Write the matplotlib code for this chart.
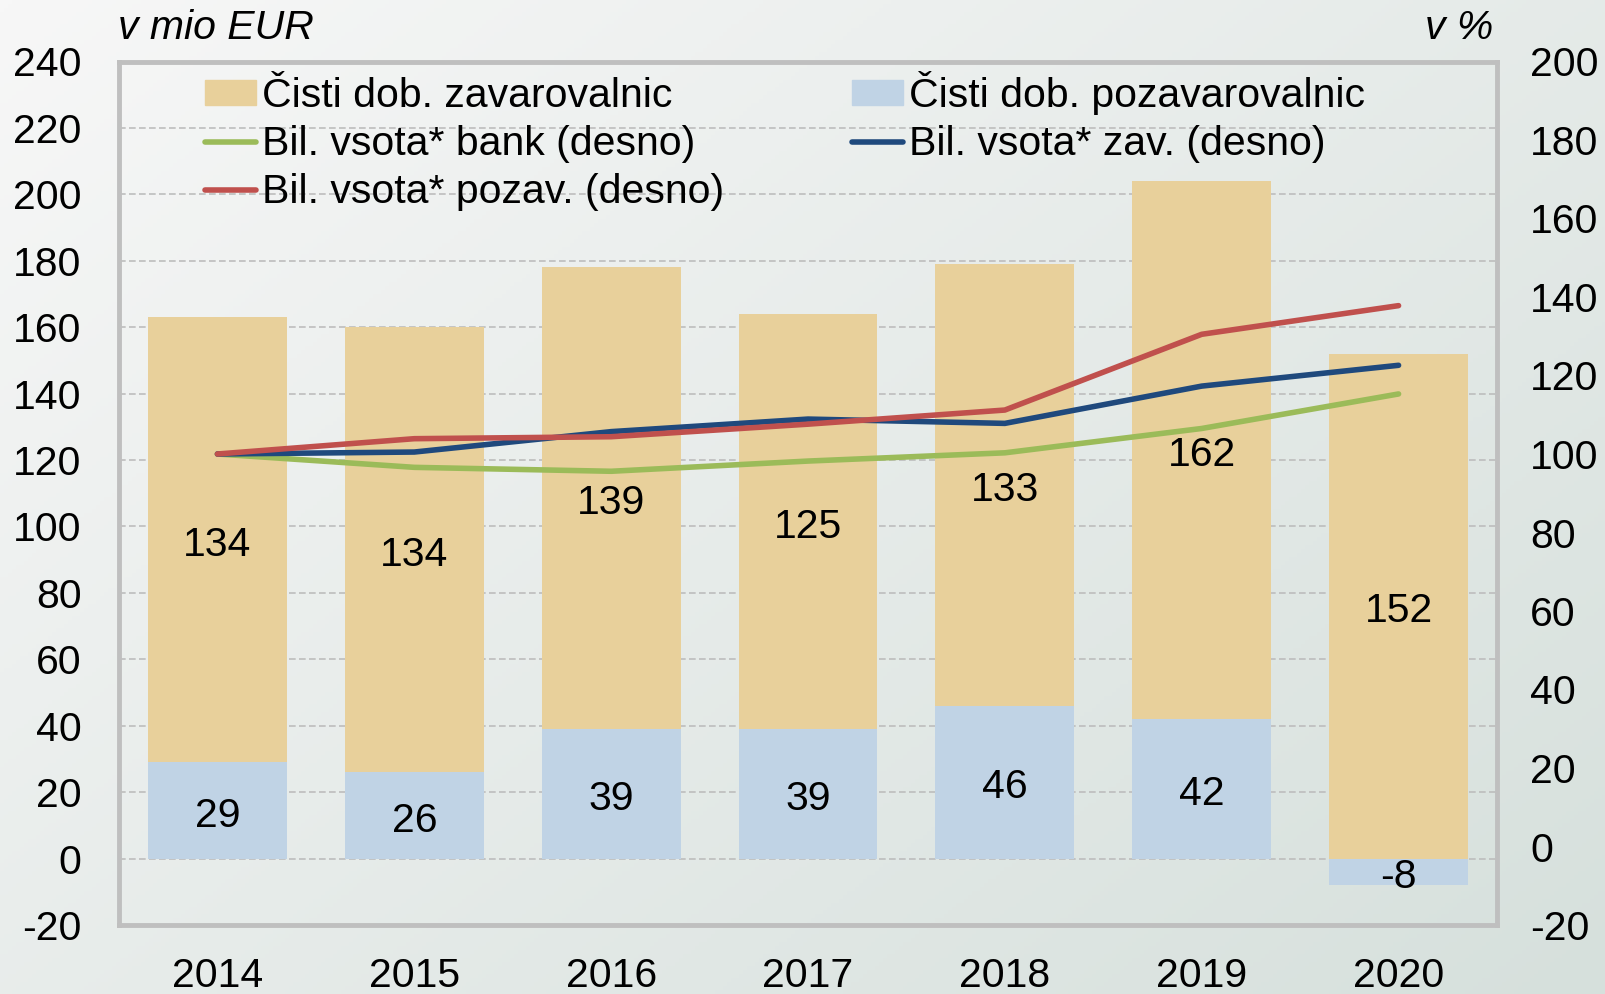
import numpy as np
import matplotlib
matplotlib.use("Agg")
import matplotlib.pyplot as plt
from matplotlib.colors import LinearSegmentedColormap
from matplotlib.patches import Patch
from matplotlib.lines import Line2D

plt.rcParams['font.family'] = ['Liberation Sans', 'DejaVu Sans']
plt.rcParams['axes.unicode_minus'] = False

# Data
years = ['2014', '2015', '2016', '2017', '2018', '2019', '2020']
reins_profit = [29, 26, 39, 39, 46, 42, -8]          # Čisti dob. pozavarovalnic (mio EUR)
ins_profit = [134, 134, 139, 125, 133, 162, 152]     # Čisti dob. zavarovalnic (mio EUR)
bank_assets = [100, 96.6, 95.6, 98.2, 100.3, 106.5, 115.3]     # index, right axis
ins_assets = [100, 100.5, 105.7, 108.9, 107.8, 117.3, 122.6]
reins_assets = [100, 103.9, 104.4, 107.6, 111.2, 130.5, 137.8]

left_ticks = list(range(-20, 241, 20))
right_ticks = list(range(-20, 201, 20))

C_INS = '#E8D09B'
C_REINS = '#C0D3E5'
C_BANK = '#9BBB59'
C_ZAV = '#1F497D'
C_POZ = '#C0504D'
FS = 29.5
LW = 4.0

W, H = 1606, 994
fig = plt.figure(figsize=(W / 100, H / 100), dpi=100)
fig.patch.set_facecolor('white')

# soft diagonal background gradient
bg = fig.add_axes([0, 0, 1, 1], zorder=-5)
bg.axis('off')
xx, yy = np.meshgrid(np.linspace(0, 1, 400), np.linspace(0, 1, 250))
t = 0.55 * xx + 0.45 * yy
cmap = LinearSegmentedColormap.from_list('bg', ['#F7F7F7', '#D6E0DC'])
bg.imshow(t, cmap=cmap, aspect='auto', extent=[0, 1, 0, 1], origin='upper')
bg.set_xlim(0, 1)
bg.set_ylim(0, 1)

ax = fig.add_axes([119 / W, 1 - 925 / H, (1497 - 119) / W, (925 - 61.5) / H])
ax.set_facecolor('none')
x = np.arange(len(years))
bw = 0.705

ins_bottom = [max(v, 0) for v in reins_profit]
b1 = ax.bar(x, reins_profit, width=bw, color=C_REINS, zorder=2)
b2 = ax.bar(x, ins_profit, width=bw, bottom=ins_bottom, color=C_INS, zorder=2)
anns = ax.bar_label(b1, labels=[str(v) for v in reins_profit], label_type='center', fontsize=FS)
anns += ax.bar_label(b2, labels=[str(v) for v in ins_profit], label_type='center', fontsize=FS)
for a in anns:
    a.xyann = (0, -3.7)

ax.set_xlim(-0.5, len(years) - 0.5)
ax.set_ylim(-20, 240)
ax.set_yticks(left_ticks)
ax.set_xticks(x)
ax.set_xticklabels(years)
ax.tick_params(axis='y', length=0, pad=27, labelsize=FS)
ax.tick_params(axis='x', length=0, pad=23, labelsize=FS)
for gy in left_ticks[1:-1]:
    ax.axhline(gy, color='#BDBDBD', lw=1.2, ls=(0, (4, 2)), zorder=1)
for sp in ax.spines.values():
    sp.set_color('#BFBFBF')
    sp.set_linewidth(3.5)

ax2 = ax.twinx()
ax2.set_ylim(-20, 200)
ax2.set_yticks(right_ticks)
ax2.tick_params(axis='y', length=0, pad=24, labelsize=FS)
for sp in ax2.spines.values():
    sp.set_visible(False)
ax2.plot(x, bank_assets, color=C_BANK, lw=LW, solid_capstyle='round', zorder=3)
ax2.plot(x, ins_assets, color=C_ZAV, lw=LW, solid_capstyle='round', zorder=3)
ax2.plot(x, reins_assets, color=C_POZ, lw=LW, solid_capstyle='round', zorder=3)

handles = [
    Patch(color=C_INS),
    Line2D([], [], color=C_BANK, lw=LW, solid_capstyle='round'),
    Line2D([], [], color=C_POZ, lw=LW, solid_capstyle='round'),
    Patch(color=C_REINS),
    Line2D([], [], color=C_ZAV, lw=LW, solid_capstyle='round'),
]
labels = [
    'Čisti dob. zavarovalnic',
    'Bil. vsota* bank (desno)',
    'Bil. vsota* pozav. (desno)',
    'Čisti dob. pozavarovalnic',
    'Bil. vsota* zav. (desno)',
]
leg = ax2.legend(handles, labels, ncol=2, loc='upper left',
                 bbox_to_anchor=(205 / W, 1 - 71 / H), bbox_transform=fig.transFigure,
                 frameon=False, fontsize=FS, handlelength=1.25, handleheight=0.57,
                 handletextpad=0.15, labelspacing=0.25, columnspacing=3.1,
                 borderpad=0, borderaxespad=0)

fig.text(118 / W, 1 - 28 / H, 'v mio EUR', fontsize=FS, style='italic', ha='left', va='center')
fig.text(1493 / W, 1 - 28 / H, 'v %', fontsize=FS, style='italic', ha='right', va='center')

fig.savefig('out.png', dpi=100)
